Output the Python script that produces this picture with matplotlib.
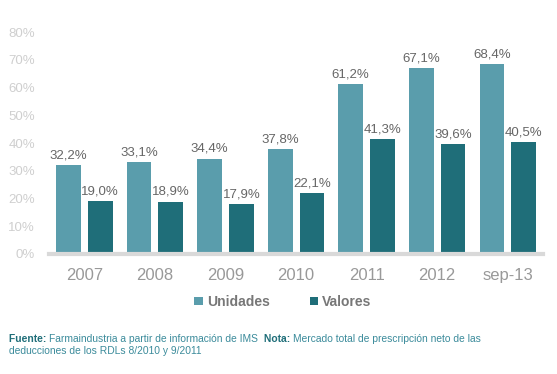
import matplotlib
matplotlib.use("Agg")
import matplotlib.pyplot as plt
import numpy as np

# Chart data
categories = ["2007", "2008", "2009", "2010", "2011", "2012", "sep-13"]
unidades = [32.2, 33.1, 34.4, 37.8, 61.2, 67.1, 68.4]
valores = [19.0, 18.9, 17.9, 22.1, 41.3, 39.6, 40.5]
series_names = ["Unidades", "Valores"]
yticks = [0, 10, 20, 30, 40, 50, 60, 70, 80]

c_unid = "#5a9dac"
c_val = "#1f6e79"
teal_text = "#3b8b9b"
teal_bold = "#1f6e79"

plt.rcParams["font.family"] = ["Liberation Sans", "DejaVu Sans"]

fig = plt.figure(figsize=(5.57, 3.74), dpi=100)
ax = fig.add_axes([0.088, 0.321, 0.887, 0.593])

x = np.arange(len(categories))
w = 0.35
off = 0.225
b1 = ax.bar(x - off, unidades, w, color=c_unid, label=series_names[0])
b2 = ax.bar(x + off, valores, w, color=c_val, label=series_names[1])

def fmt(v):
    return f"{v:.1f}%".replace(".", ",")

for bars, vals in [(b1, unidades), (b2, valores)]:
    for rect, v in zip(bars, vals):
        ax.text(rect.get_x() + rect.get_width() / 2, v + 1.3, fmt(v),
                ha="center", va="bottom", fontsize=9.5, color="#666666")

ax.set_xlim(-0.5, len(categories) - 0.5)
ax.set_ylim(0, 80)
ax.set_yticks(yticks)
ax.set_yticklabels([f"{t}%" for t in yticks], fontsize=9.5, color="#cfcfcf")
ax.set_xticks(x)
ax.set_xticklabels(categories, fontsize=12, color="#999999")
ax.tick_params(axis="both", length=0)
ax.tick_params(axis="y", pad=10)
ax.tick_params(axis="x", pad=10)
for s in ["top", "right", "left"]:
    ax.spines[s].set_visible(False)
ax.spines["bottom"].set_color("#d9d9d9")
ax.spines["bottom"].set_linewidth(3)

leg = fig.legend(handles=[b1, b2], labels=series_names, loc="center",
                 bbox_to_anchor=(0.508, 0.193), ncol=2, frameon=False,
                 handlelength=0.6, handleheight=0.6, handletextpad=0.3,
                 columnspacing=2.9, prop={"size": 10, "weight": "bold"})
for t in leg.get_texts():
    t.set_color("#777777")

# Footer with mixed bold / regular runs
fig.canvas.draw()
renderer = fig.canvas.get_renderer()

def run_line(parts, y):
    xpos = 9 / 557
    for txt, bold in parts:
        t = fig.text(xpos, y, txt, fontsize=7.4, va="center",
                     color=teal_bold if bold else teal_text,
                     fontweight="bold" if bold else "normal")
        bb = t.get_window_extent(renderer=renderer)
        xpos = bb.x1 / fig.bbox.width

run_line([("Fuente: ", True),
          ("Farmaindustria a partir de información de IMS  ", False),
          ("Nota: ", True),
          ("Mercado total de prescripción neto de las", False)], 1 - 339 / 374)
run_line([("deducciones de los RDLs 8/2010 y 9/2011", False)], 1 - 351 / 374)

fig.savefig("out.png", dpi=100)
